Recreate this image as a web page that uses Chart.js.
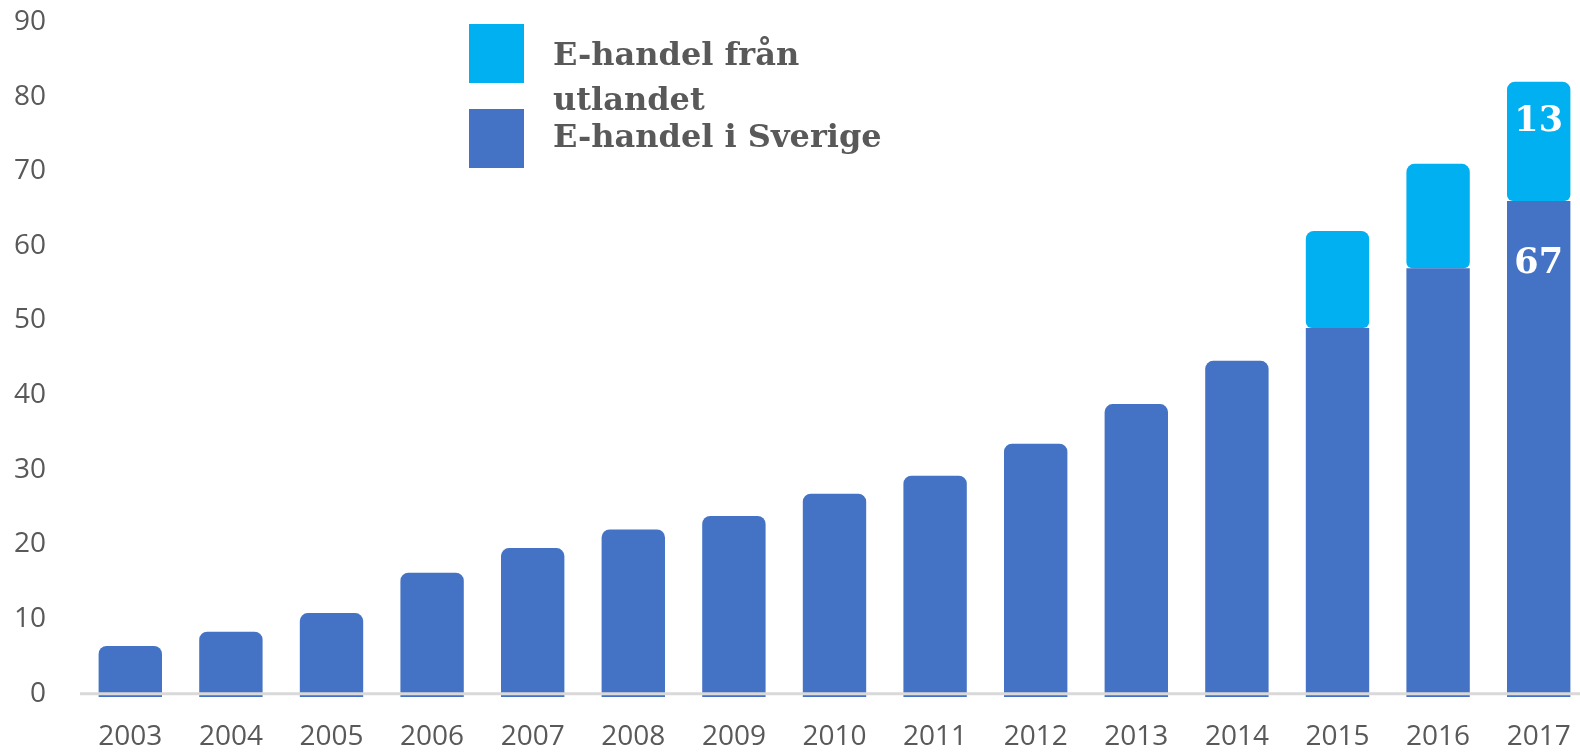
<!DOCTYPE html>
<html>
<head>
<meta charset="utf-8">
<script src="https://cdn.jsdelivr.net/npm/chart.js@4.4.1/dist/chart.umd.min.js"></script>
<style>
  html, body { margin: 0; padding: 0; background: #fff; overflow: hidden; }
  #wrap { width: 1589px; height: 752px; }
</style>
</head>
<body>
<div id="wrap"><canvas id="chart" width="1589" height="752"></canvas></div>
<script>
// =====================
// DATA
// =====================
const years = ["2003","2004","2005","2006","2007","2008","2009","2010","2011","2012","2013","2014","2015","2016","2017"];
const sverige = [6.4, 8.3, 10.8, 16.2, 19.5, 22.0, 23.8, 26.8, 29.2, 33.5, 38.8, 44.6, 49, 57, 66];
const utlandet = [null, null, null, null, null, null, null, null, null, null, null, null, 13, 14, 16];
const seriesNames = ["E-handel i Sverige", "E-handel från utlandet"];
const seriesColors = ["#4472C4", "#00B0F0"];
const yTicks = [0, 10, 20, 30, 40, 50, 60, 70, 80, 90];
// labels printed on the last bar
const lastBarLabels = ["67", "13"];

const GREY = "#595959";
const SERIF = "'DejaVu Serif', 'Liberation Serif', serif";
const SANS = "'Open Sans', sans-serif";

// =====================
// PLUGINS
// =====================
// light grey zero line drawn over the bars
const zeroLine = {
  id: "zeroLine",
  afterDatasetsDraw(chart) {
    const {ctx, chartArea, scales} = chart;
    const y0 = scales.y.getPixelForValue(0);
    ctx.save();
    ctx.strokeStyle = "#D9D9D9";
    ctx.lineWidth = 3;
    ctx.beginPath();
    ctx.moveTo(chartArea.left, y0);
    ctx.lineTo(chartArea.right, y0);
    ctx.stroke();
    ctx.restore();
  }
};

// legend in the upper middle, series listed top to bottom: utlandet, sverige
const boxLegend = {
  id: "boxLegend",
  afterDraw(chart) {
    const ctx = chart.ctx;
    const entries = [
      {name: seriesNames[1], color: seriesColors[1], top: 24},
      {name: seriesNames[0], color: seriesColors[0], top: 109}
    ];
    ctx.save();
    ctx.font = "bold 32px " + SERIF;
    ctx.textBaseline = "alphabetic";
    ctx.textAlign = "left";
    entries.forEach((e, i) => {
      ctx.fillStyle = e.color;
      ctx.fillRect(469, e.top, 55, 59);
      // wrap words
      const words = e.name.split(" ");
      const lines = [];
      let line = "";
      words.forEach(w => {
        const test = line ? line + " " + w : w;
        if (ctx.measureText(test).width > 345 && line) {
          lines.push(line);
          line = w;
        } else line = test;
      });
      lines.push(line);
      ctx.fillStyle = GREY;
      const base = i === 0 ? e.top + 41 : e.top + 38;
      lines.forEach((l, k) => ctx.fillText(l, 553, base + k * 45));
    });
    ctx.restore();
  }
};

// the two numbers on the 2017 bar
const lastLabels = {
  id: "lastLabels",
  afterDatasetsDraw(chart) {
    const ctx = chart.ctx;
    const last = years.length - 1;
    const dark = chart.getDatasetMeta(0).data[last];
    const light = chart.getDatasetMeta(1).data[last];
    ctx.save();
    ctx.font = "bold 35px " + SERIF;
    ctx.fillStyle = "#FFFFFF";
    ctx.textAlign = "center";
    ctx.textBaseline = "middle";
    ctx.fillText(lastBarLabels[1], light.x, light.y + 40);
    ctx.fillText(lastBarLabels[0], dark.x, dark.y + 63);
    ctx.restore();
  }
};

// =====================
// CHART
// =====================
const ctx = document.getElementById("chart").getContext("2d");
new Chart(ctx, {
  type: "bar",
  data: {
    labels: years,
    datasets: [
      {
        label: seriesNames[0],
        data: sverige,
        backgroundColor: seriesColors[0],
        base: -0.45,
        borderRadius: c => utlandet[c.dataIndex] ? 0 : {topLeft: 8, topRight: 8},
        barPercentage: 0.63,
        categoryPercentage: 1
      },
      {
        label: seriesNames[1],
        data: utlandet,
        backgroundColor: seriesColors[1],
        borderSkipped: false,
        borderRadius: {topLeft: 8, topRight: 8, bottomLeft: 6, bottomRight: 6},
        barPercentage: 0.63,
        categoryPercentage: 1
      }
    ]
  },
  options: {
    responsive: false,
    animation: false,
    layout: { padding: { top: 22, left: 0, right: 0, bottom: 0 } },
    plugins: {
      legend: { display: false },
      tooltip: { enabled: false }
    },
    scales: {
      x: {
        stacked: true,
        grid: { display: false, drawTicks: false, tickLength: 0 },
        border: { display: false },
        ticks: {
          color: GREY,
          font: { family: SANS, size: 28 },
          padding: 23,
          maxRotation: 0,
          autoSkip: false
        },
        afterFit: s => { s.height = 55; s.paddingLeft = 0; s.paddingRight = 0; }
      },
      y: {
        stacked: true,
        min: -0.45,
        max: 90,
        grid: { display: false, drawTicks: false, tickLength: 0 },
        border: { display: false },
        ticks: {
          color: GREY,
          font: { family: SANS, size: 28 },
          padding: 34
        },
        afterBuildTicks: s => { s.ticks = yTicks.map(v => ({value: v})); },
        afterFit: s => { s.width = 80; s.paddingTop = 0; s.paddingBottom = 0; }
      }
    }
  },
  plugins: [zeroLine, lastLabels, boxLegend]
});
</script>
</body>
</html>
